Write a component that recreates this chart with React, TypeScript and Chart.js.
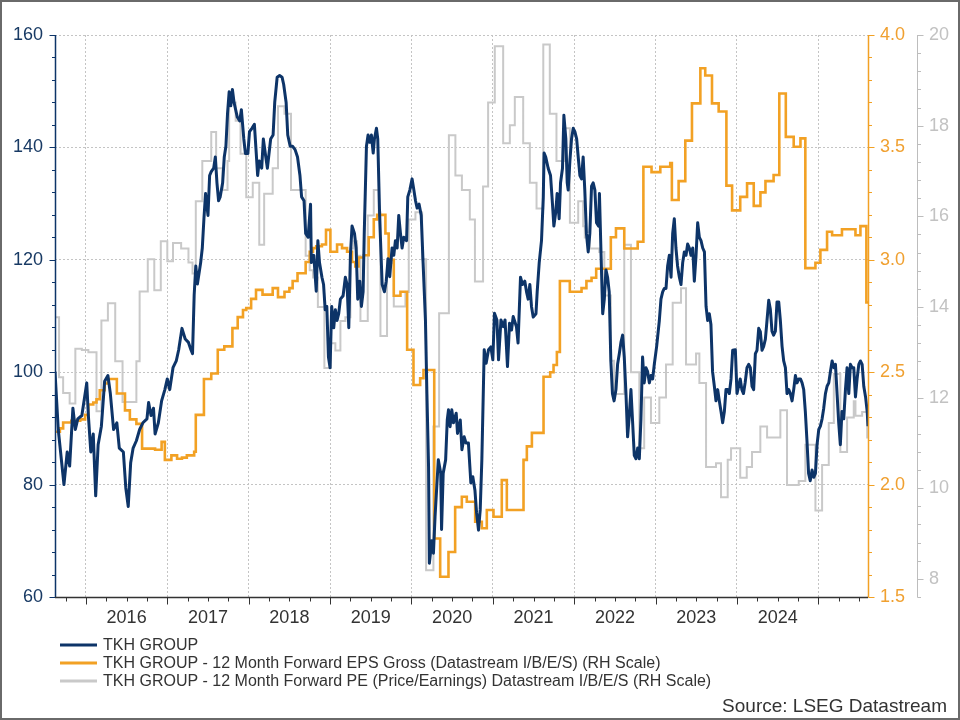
import React, { useEffect, useRef } from 'react';
import { Chart, registerables } from 'chart.js';

Chart.register(...registerables);

// ---------------- DATA ----------------
const yearLabels = ['2016', '2017', '2018', '2019', '2020', '2021', '2022', '2023', '2024'];
const seriesNames = [
  'TKH GROUP',
  'TKH GROUP - 12 Month Forward EPS Gross (Datastream I/B/E/S) (RH Scale)',
  'TKH GROUP - 12 Month Forward PE (Price/Earnings) Datastream I/B/E/S (RH Scale)',
];
const sourceText = 'Source: LSEG Datastream';

// TKH GROUP price (decimal-year dates, values)
const priceDates = [
  2015.62, 2015.66, 2015.73, 2015.77, 2015.80, 2015.84, 2015.87, 2015.90, 2015.95, 2016.01, 2016.03, 2016.06, 2016.09, 2016.12, 2016.15, 2016.19, 2016.23, 2016.27, 2016.30, 2016.34, 2016.38, 2016.41, 2016.46, 2016.49, 2016.52, 2016.55, 2016.58, 2016.62, 2016.66, 2016.70, 2016.75, 2016.77, 2016.80, 2016.83, 2016.85, 2016.89, 2016.93, 2016.97, 2017.00, 2017.03, 2017.07, 2017.11, 2017.14, 2017.18, 2017.22, 2017.26, 2017.29,
  2017.31, 2017.33, 2017.35, 2017.37, 2017.41, 2017.43, 2017.45, 2017.47, 2017.50, 2017.52, 2017.54, 2017.57, 2017.59, 2017.61, 2017.63, 2017.65, 2017.68, 2017.70, 2017.72, 2017.74, 2017.76, 2017.78, 2017.80, 2017.82, 2017.84, 2017.86, 2017.89, 2017.91, 2017.94, 2017.96, 2017.99, 2018.01, 2018.04, 2018.07, 2018.09, 2018.11, 2018.13, 2018.16, 2018.18, 2018.21, 2018.23, 2018.27, 2018.30, 2018.32, 2018.35, 2018.38, 2018.41, 2018.43, 2018.46, 2018.48, 2018.51, 2018.54, 2018.57, 2018.60, 2018.63, 2018.65, 2018.68, 2018.70, 2018.73, 2018.76, 2018.77, 2018.80, 2018.83, 2018.85, 2018.87, 2018.90, 2018.92, 2018.94, 2018.96,
  2018.98, 2019.00, 2019.02, 2019.045, 2019.065, 2019.086, 2019.106, 2019.127, 2019.16, 2019.188, 2019.209, 2019.23, 2019.25, 2019.27, 2019.30, 2019.32, 2019.34, 2019.365, 2019.385, 2019.406, 2019.42, 2019.447, 2019.467, 2019.488, 2019.508, 2019.53, 2019.545, 2019.57, 2019.586, 2019.61, 2019.64, 2019.668, 2019.69, 2019.713, 2019.733, 2019.762, 2019.783, 2019.803, 2019.824, 2019.844, 2019.865, 2019.885, 2019.906, 2019.94, 2019.955, 2019.98, 2020.008, 2020.03, 2020.05, 2020.07, 2020.094, 2020.12, 2020.143, 2020.172, 2020.19, 2020.21,
  2020.22, 2020.25, 2020.27, 2020.29, 2020.33, 2020.36, 2020.37, 2020.39, 2020.42, 2020.44, 2020.455, 2020.475, 2020.496, 2020.516, 2020.55, 2020.566, 2020.60, 2020.62, 2020.648, 2020.67, 2020.70, 2020.73, 2020.754, 2020.78, 2020.80, 2020.824, 2020.845, 2020.865, 2020.894, 2020.918, 2020.947, 2020.976, 2021.00, 2021.02, 2021.05, 2021.07, 2021.10, 2021.13, 2021.15, 2021.18, 2021.205, 2021.23, 2021.25, 2021.29, 2021.31,
  2021.34, 2021.365, 2021.393, 2021.414, 2021.434, 2021.455, 2021.475, 2021.496, 2021.53, 2021.545, 2021.57, 2021.598, 2021.62, 2021.63, 2021.65, 2021.68, 2021.709, 2021.733, 2021.75, 2021.774, 2021.79, 2021.815, 2021.832, 2021.856, 2021.873, 2021.897, 2021.914, 2021.926, 2021.947, 2021.967, 2021.988, 2022.008, 2022.03, 2022.049, 2022.07, 2022.09, 2022.11, 2022.13, 2022.15, 2022.172, 2022.192, 2022.213, 2022.233, 2022.254, 2022.274, 2022.30,
  2022.31, 2022.33, 2022.35, 2022.37, 2022.39, 2022.41, 2022.43, 2022.45, 2022.47, 2022.49, 2022.513, 2022.533, 2022.554, 2022.574, 2022.595, 2022.615, 2022.636, 2022.656, 2022.677, 2022.697, 2022.718, 2022.738, 2022.759, 2022.78, 2022.80, 2022.82, 2022.84, 2022.86, 2022.882, 2022.902, 2022.923, 2022.943, 2022.964, 2022.984, 2023.013, 2023.046, 2023.066, 2023.087, 2023.107, 2023.128, 2023.148, 2023.169, 2023.19, 2023.21, 2023.23, 2023.25, 2023.27, 2023.292, 2023.312, 2023.333, 2023.353, 2023.374, 2023.394, 2023.415, 2023.435, 2023.456, 2023.476, 2023.497, 2023.517, 2023.538, 2023.558, 2023.579, 2023.60, 2023.62, 2023.64, 2023.66, 2023.68, 2023.70, 2023.722, 2023.742, 2023.763, 2023.783, 2023.804, 2023.824, 2023.845, 2023.865, 2023.886, 2023.906, 2023.927, 2023.947, 2023.98,
  2024.00, 2024.02, 2024.04, 2024.06, 2024.08, 2024.10, 2024.123, 2024.144, 2024.164, 2024.185, 2024.205, 2024.226, 2024.246, 2024.267, 2024.287, 2024.308, 2024.328, 2024.349, 2024.369, 2024.39, 2024.41, 2024.43, 2024.45, 2024.472, 2024.492, 2024.513, 2024.533, 2024.554, 2024.574, 2024.595, 2024.615, 2024.636, 2024.656, 2024.677, 2024.697, 2024.718, 2024.738, 2024.759, 2024.78, 2024.80, 2024.82, 2024.84, 2024.86, 2024.88, 2024.90, 2024.923, 2024.943, 2024.964, 2024.984, 2025.005, 2025.025, 2025.046, 2025.066, 2025.087, 2025.107, 2025.128, 2025.148, 2025.169, 2025.19, 2025.21, 2025.23, 2025.25, 2025.27, 2025.29, 2025.312, 2025.333, 2025.353, 2025.374, 2025.394, 2025.415, 2025.435, 2025.456, 2025.476, 2025.497, 2025.517, 2025.538, 2025.558, 2025.58, 2025.60, 2025.61,
];
const priceValues = [
  100.1, 89.8, 80, 85.8, 83.3, 93.6, 89.8, 91.7, 92.3, 98.1, 92.3, 85.8, 89, 78, 87.1, 90.4, 98.4, 99.4, 96.2, 89.8, 91, 86.5, 85.8, 79.4, 76.1, 83.9, 86.5, 87.8, 89.8, 91, 91.7, 94.6, 92.3, 93.6, 89, 91, 94.9, 96.9, 98.8, 96.9, 100.8, 102, 104, 107.8, 105.9, 105.3, 104,
  103.3, 113.7, 118.9, 115.7, 119.5, 122.1, 127.3, 131.8, 127.9, 135, 135.7, 136.3, 138.3, 133.7, 130.5, 131.2, 133.7, 138.3, 140.2, 146, 149.9, 147.4, 150.3, 148, 146.7, 145.4, 144.7, 146.7, 141.5, 138.9, 138.9, 142.8, 143.4, 144.1, 139.6, 135, 137.6, 136.3, 141.5, 138.3, 136.3, 141.5, 142.2, 148, 152.5, 152.8, 152.5, 151.2, 148, 142.2, 140.2, 140.2, 139.6, 138.3, 135, 131.2, 130.5, 124.7, 124, 129.9, 119.5, 120.8, 114.4, 123.4, 119.5, 116.9, 115.6, 111.1, 111.7,
  102.7, 100.8, 111.7, 107.9, 111.1, 109.2, 110.4, 113, 113.6, 116.9, 115.6, 107.9, 120.8, 126, 124.7, 122.1, 113, 116.2, 111.7, 114.3, 124.7, 140.2, 142.2, 140.9, 142.2, 139, 141.5, 143.4, 141.5, 127.3, 115.6, 114.3, 116.2, 120.2, 117, 122.1, 120.8, 123.4, 122.1, 127.9, 124.7, 122.1, 124, 123.4, 131.2, 132.4, 134.4, 132.4, 130.5, 129.2, 129.9, 127.9, 119.5, 109.2, 96.2, 83.3,
  66, 70, 67.8, 74.3, 84.4, 82, 72, 82, 84.4, 91.5, 93.3, 90.3, 93.3, 91, 92.7, 89.1, 91.5, 86.2, 88.5, 87.4, 87.4, 80.3, 81.4, 79, 75, 71.9, 75.5, 84.4, 104, 101.6, 104, 104.5, 102.2, 110.5, 109.3, 102.2, 109.3, 108.1, 109.3, 101, 108.7, 107.5, 109.9, 108.1, 105.2,
  116.9, 115.6, 116.2, 114.3, 113, 115.6, 111.7, 109.8, 110.4, 114.3, 119.5, 123.4, 131.2, 139, 138.3, 136.3, 135, 129.9, 126, 128.6, 131.8, 127.3, 133.7, 136.3, 145.7, 141.5, 133.7, 132.4, 137.6, 141.5, 143.4, 142.8, 141.5, 138.3, 135, 134.4, 138.3, 132.4, 124.7, 121.4, 124.7, 133.1, 133.7, 132.4, 126.6, 126,
  131.8, 120.8, 110.4, 113, 118.2, 116.9, 114.3, 102, 96.2, 94.9, 96.9, 101.4, 103.3, 105.3, 106.6, 102.7, 96.2, 88.5, 92.3, 96.9, 91, 85.2, 84.6, 86.5, 84.6, 91.7, 102.7, 98.1, 100.8, 100.1, 98.1, 99.4, 98.8, 101.4, 104.6, 109.2, 113, 114.3, 114.9, 114.9, 118.9, 120.8, 116.9, 124.7, 127.3, 122.1, 118.9, 116.9, 115.6, 119.5, 121.4, 120.8, 122.8, 122.1, 120.8, 122.1, 116.2, 120.8, 126.6, 124, 123.4, 122.1, 121.4, 111.7, 109.2, 110.4, 108.5, 100.1, 97.5, 94.9, 96.9, 94.9, 93, 91, 93, 96.9, 96.9, 96.2, 98.8, 103.9, 104,
  96.2, 97.5, 98.8, 96.9, 96.2, 98.1, 100.8, 101.4, 100.8, 97.5, 96.9, 103.3, 103.9, 107.8, 107.2, 103.9, 104.6, 105.9, 109.2, 112.8, 111.2, 107.3, 106.6, 107.3, 112.5, 112.5, 109.2, 104.6, 102, 100.8, 96.2, 96.9, 96.2, 94.9, 96.9, 99.4, 98.1, 98.8, 98.8, 98.1, 96.9, 93, 87.8, 82, 80.7, 82.6, 81.3, 82, 87.1, 89.8, 90.4, 91.7, 93.6, 96.2, 97.5, 98.1, 100.1, 102, 100.8, 101.4, 96.2, 91, 87.1, 93, 91.7, 96.9, 100.8, 96.2, 101.4, 100.8, 100.8, 95.6, 98.8, 101.4, 102, 101.4, 97.5, 95.6, 93, 90.4,
];

// 12 Month Forward EPS (step series: date of change, new value)
const epsDates = [
  2015.62, 2015.68, 2015.72, 2015.82, 2015.93, 2015.99, 2016.03, 2016.09, 2016.13, 2016.17, 2016.23, 2016.27, 2016.38, 2016.48, 2016.54, 2016.62, 2016.69, 2016.85, 2016.93, 2016.97, 2017.05, 2017.12, 2017.18, 2017.24,
  2017.33, 2017.35, 2017.45, 2017.54, 2017.62, 2017.70, 2017.80, 2017.865, 2017.93, 2017.97, 2018.03, 2018.09, 2018.17, 2018.295, 2018.36, 2018.44, 2018.50, 2018.54, 2018.60, 2018.70, 2018.75, 2018.79, 2018.83, 2018.90, 2018.95,
  2019.004, 2019.086, 2019.147, 2019.209, 2019.27, 2019.31, 2019.35, 2019.414, 2019.475, 2019.537, 2019.578, 2019.68, 2019.72, 2019.783, 2019.865, 2019.947,
  2020.025, 2020.107, 2020.148, 2020.28, 2020.353, 2020.455, 2020.537, 2020.619, 2020.68, 2020.783, 2020.865, 2020.926, 2021.008, 2021.11, 2021.172, 2021.377, 2021.418, 2021.48, 2021.623, 2021.705, 2021.746, 2021.787, 2021.824, 2021.946, 2022.09, 2022.15, 2022.213, 2022.27,
  2022.45, 2022.513, 2022.615, 2022.78, 2022.85, 2022.95, 2023.058, 2023.18, 2023.20, 2023.283, 2023.365, 2023.447, 2023.55, 2023.61, 2023.693, 2023.775, 2023.87, 2023.94,
  2024.04, 2024.124, 2024.206, 2024.288, 2024.35, 2024.45, 2024.52, 2024.60, 2024.697, 2024.78, 2024.84, 2024.964, 2025.025, 2025.107, 2025.169, 2025.29, 2025.456, 2025.517, 2025.59, 2025.61,
];
const epsValues = [
  2.235, 2.25, 2.276, 2.284, 2.29, 2.31, 2.356, 2.365, 2.38, 2.42, 2.45, 2.47, 2.405, 2.33, 2.29, 2.27, 2.16, 2.155, 2.19, 2.11, 2.13, 2.115, 2.12, 2.13,
  2.146, 2.31, 2.47, 2.494, 2.6, 2.615, 2.696, 2.745, 2.777, 2.785, 2.826, 2.866, 2.845, 2.874, 2.834, 2.858, 2.874, 2.906, 2.94, 2.99, 3.036, 3.052, 3.06, 3.068, 3.133,
  3.036, 3.068, 3.052, 3.036, 2.99, 2.97, 3.01, 3.02, 3.1, 3.18, 3.2, 3.117, 3.0, 2.84, 2.858, 2.6,
  2.443, 2.473, 2.51, 1.76, 1.59, 1.70, 1.90, 1.946, 1.924, 1.835, 1.806, 1.887, 1.857, 2.02, 1.887, 2.11, 2.17, 2.23, 2.48, 2.50, 2.532, 2.59, 2.906, 2.858, 2.874, 2.906, 2.92, 2.96,
  3.1, 3.14, 3.05, 3.08, 3.414, 3.39, 3.414, 3.43, 3.266, 3.35, 3.53, 3.696, 3.852, 3.82, 3.696, 3.66, 3.33, 3.22,
  3.28, 3.34, 3.24, 3.30, 3.35, 3.377, 3.74, 3.547, 3.503, 3.54, 2.963, 2.987, 3.044, 3.125, 3.109, 3.136, 3.109, 3.15, 2.81, 2.81,
];

// 12 Month Forward PE (step series)
const peDates = [
  2015.62, 2015.67, 2015.72, 2015.80, 2015.87, 2015.95, 2016.03, 2016.13, 2016.19, 2016.27, 2016.36, 2016.45, 2016.62, 2016.66, 2016.76, 2016.84, 2016.92, 2017.00, 2017.07, 2017.17, 2017.26,
  2017.31, 2017.35, 2017.43, 2017.54, 2017.60, 2017.68, 2017.74, 2017.76, 2017.84, 2017.90, 2017.97, 2018.05, 2018.13, 2018.19, 2018.295, 2018.36, 2018.44, 2018.52, 2018.70, 2018.75, 2018.79, 2018.85, 2018.93,
  2019.01, 2019.065, 2019.127, 2019.188, 2019.25, 2019.29, 2019.332, 2019.373, 2019.463, 2019.537, 2019.598, 2019.619, 2019.70, 2019.762, 2019.783, 2019.926, 2019.967, 2020.049, 2020.131,
  2020.18, 2020.27, 2020.34, 2020.46, 2020.54, 2020.62, 2020.717, 2020.78, 2020.88, 2020.942, 2021.024, 2021.127, 2021.209, 2021.27, 2021.373, 2021.455, 2021.537, 2021.62, 2021.70, 2021.782, 2021.885, 2021.947, 2022.049, 2022.11, 2022.13, 2022.192,
  2022.308, 2022.37, 2022.45, 2022.49, 2022.615, 2022.697, 2022.80, 2022.86, 2022.943, 2023.046, 2023.128, 2023.21, 2023.312, 2023.374, 2023.497, 2023.538, 2023.62, 2023.742, 2023.804, 2023.886, 2023.927,
  2024.04, 2024.12, 2024.185, 2024.287, 2024.37, 2024.533, 2024.615, 2024.759, 2024.84, 2024.964, 2025.046, 2025.128, 2025.19, 2025.27, 2025.353, 2025.435, 2025.456, 2025.538, 2025.60, 2025.61,
];
const peValues = [
  13.77, 12.45, 12.1, 11.87, 13.08, 13.05, 13.0, 11.7, 13.7, 14.08, 12.8, 11.9, 12.8, 14.34, 15.05, 14.37, 15.45, 15.01, 15.41, 15.29, 14.98,
  14.74, 16.33, 17.22, 17.86, 17.06, 16.58, 17.22, 18.51, 18.11, 17.38, 16.42, 16.74, 15.37, 16.5, 17.06, 18.43, 18.26, 16.58, 15.13, 14.81, 14.65, 14.0, 12.65,
  13.2, 13.04, 13.69, 13.77, 15.29, 15.45, 15.13, 13.69, 16.02, 16.58, 16.09, 13.36, 15.05, 14.97, 14.01, 14.33, 15.93, 16.09, 15.05,
  8.19, 11.36, 13.86, 17.79, 16.9, 16.58, 15.93, 14.56, 16.66, 18.51, 19.75, 17.61, 18.01, 18.63, 17.61, 16.74, 16.17, 19.79, 18.26, 17.22, 17.94, 15.86, 16.33, 15.78, 15.53, 15.29,
  15.21, 14.25, 12.81, 12.08, 15.37, 12.56, 10.88, 12.0, 11.44, 12.0, 12.73, 14.09, 14.41, 12.73, 12.97, 12.32, 10.47, 10.55, 9.8, 10.63, 10.88,
  10.23, 10.47, 10.8, 11.36, 11.12, 11.72, 10.07, 10.16, 10.96, 9.51, 10.51, 11.44, 12.52, 10.8, 11.56, 11.92, 11.6, 11.68, 11.12, 11.12,
];

// axis ranges
const X_MIN = 2015.62;
const X_MAX = 2025.61;
const LEFT_MIN = 60, LEFT_MAX = 160;
const EPS_MIN = 1.5, EPS_MAX = 4.0;
const PE_MIN = 7.6, PE_MAX = 20;

// ---------------- STYLE ----------------
const FONT = "'Liberation Sans', Arial, Helvetica, sans-serif";
const NAVY = '#0d3468';
const ORANGE = '#f2a124';
const GREY = '#c9c9c9';
const GRID = '#c4c4c4';
const TEXT = '#333333';

const toXY = (d: number[], v: number[]) => d.map((x, i) => ({ x, y: v[i] }));
const near = (a: number, b: number) => Math.abs(a - b) < 1e-6;

function quarterTicks() {
  const out: { value: number }[] = [];
  for (let q = Math.ceil(X_MIN * 4); q <= Math.floor(X_MAX * 4); q++) out.push({ value: q / 4 });
  return out;
}

const decorPlugin = {
  id: 'decor',
  afterDraw(chart: any) {
    const { ctx, chartArea: ca, scales } = chart;
    const L = Math.round(ca.left) + 0.5;
    const R = Math.round(ca.right) + 0.5;
    const T = Math.round(ca.top);
    const B = Math.round(ca.bottom) + 0.5;
    const seg = (x1: number, y1: number, x2: number, y2: number) => {
      ctx.beginPath();
      ctx.moveTo(x1, y1);
      ctx.lineTo(x2, y2);
      ctx.stroke();
    };
    ctx.save();
    // left axis
    ctx.strokeStyle = NAVY;
    ctx.lineWidth = 1.5;
    seg(L, T, L, B);
    ctx.lineWidth = 1;
    for (let v = LEFT_MIN; v <= LEFT_MAX; v += 4) {
      const y = Math.round(scales.y.getPixelForValue(v)) + 0.5;
      seg(L - (v % 20 === 0 ? 6 : 3.5), y, L, y);
    }
    // orange axis
    ctx.strokeStyle = ORANGE;
    ctx.lineWidth = 1.5;
    seg(R, T, R, B);
    ctx.lineWidth = 1;
    for (let i = 15; i <= 40; i++) {
      const v = i / 10;
      const y = Math.round(scales.y1.getPixelForValue(v)) + 0.5;
      seg(R, y, R + (i % 5 === 0 ? 6 : 3.5), y);
    }
    // grey axis
    const G = Math.round(scales.y2.left) + 0.5;
    ctx.strokeStyle = '#bdbdbd';
    ctx.lineWidth = 1;
    seg(G, T, G, B);
    for (let i = 19; i <= 50; i++) {
      const v = (i * 4) / 10;
      const y = Math.round(scales.y2.getPixelForValue(v)) + 0.5;
      seg(G, y, G + (i % 5 === 0 ? 6 : 3.5), y);
    }
    // bottom axis
    ctx.strokeStyle = TEXT;
    ctx.lineWidth = 1.5;
    seg(ca.left, B, ca.right, B);
    ctx.lineWidth = 1;
    quarterTicks().forEach(({ value }) => {
      const x = Math.round(scales.x.getPixelForValue(value)) + 0.5;
      const major = near(value, Math.round(value));
      seg(x, B, x, B + (major ? 7 : 4));
    });
    // legend
    const colors = [NAVY, ORANGE, GREY];
    const rows = [645, 663, 681];
    ctx.font = `16px ${FONT}`;
    ctx.textBaseline = 'middle';
    ctx.textAlign = 'left';
    seriesNames.forEach((name, i) => {
      ctx.strokeStyle = colors[i];
      ctx.lineWidth = 3;
      seg(60, rows[i], 97, rows[i]);
      ctx.fillStyle = TEXT;
      ctx.fillText(name, 103, rows[i] + 1);
    });
    // source
    ctx.font = `19px ${FONT}`;
    ctx.textAlign = 'right';
    ctx.fillText(sourceText, 947, 707);
    // frame
    ctx.strokeStyle = '#6a6a6a';
    ctx.lineWidth = 2;
    ctx.strokeRect(1, 1, chart.width - 2, chart.height - 2);
    ctx.restore();
  },
};

export default function App() {
  const canvasRef = useRef<HTMLCanvasElement | null>(null);

  useEffect(() => {
    document.body.style.margin = '0';
    const canvas = canvasRef.current;
    if (!canvas) return;
    const chart = new Chart(canvas, {
      type: 'line',
      data: {
        datasets: [
          {
            label: seriesNames[0],
            data: toXY(priceDates, priceValues),
            borderColor: NAVY,
            borderWidth: 3,
            pointRadius: 0,
            tension: 0,
            yAxisID: 'y',
            borderJoinStyle: 'round',
          },
          {
            label: seriesNames[1],
            data: toXY(epsDates, epsValues),
            borderColor: ORANGE,
            borderWidth: 2.6,
            pointRadius: 0,
            stepped: true,
            yAxisID: 'y1',
          },
          {
            label: seriesNames[2],
            data: toXY(peDates, peValues),
            borderColor: GREY,
            borderWidth: 2,
            pointRadius: 0,
            stepped: true,
            yAxisID: 'y2',
          },
        ],
      },
      options: {
        animation: false,
        responsive: true,
        maintainAspectRatio: false,
        devicePixelRatio: 1,
        parsing: false as any,
        normalized: true,
        layout: { padding: { top: 35, left: 0, right: 0, bottom: 0 } },
        plugins: { legend: { display: false }, tooltip: { enabled: false } },
        events: [],
        scales: {
          x: {
            type: 'linear',
            min: X_MIN,
            max: X_MAX,
            afterBuildTicks: (s: any) => {
              s.ticks = quarterTicks();
            },
            afterFit: (s: any) => {
              s.height = 123;
            },
            grid: {
              drawTicks: false,
              color: (c: any) => (c.tick && near(c.tick.value, Math.round(c.tick.value)) ? GRID : 'rgba(0,0,0,0)'),
            },
            border: { display: false, dash: [2, 2] },
            ticks: {
              autoSkip: false,
              maxRotation: 0,
              minRotation: 0,
              padding: 10,
              color: TEXT,
              font: { size: 18, family: FONT },
              callback: (v: any) => {
                const n = Number(v);
                const y = Math.floor(n);
                return near(n - y, 0.5) && yearLabels.includes(String(y)) ? String(y) : '';
              },
            },
          },
          y: {
            position: 'left',
            min: LEFT_MIN,
            max: LEFT_MAX,
            afterBuildTicks: (s: any) => {
              const t: { value: number }[] = [];
              for (let v = LEFT_MIN; v <= LEFT_MAX; v += 4) t.push({ value: v });
              s.ticks = t;
            },
            afterFit: (s: any) => {
              s.width = 55;
            },
            grid: {
              drawTicks: false,
              color: (c: any) => (c.tick && c.tick.value % 20 === 0 && c.tick.value !== LEFT_MIN ? GRID : 'rgba(0,0,0,0)'),
            },
            border: { display: false, dash: [2, 2] },
            ticks: {
              autoSkip: false,
              padding: 12,
              color: '#183a64',
              font: { size: 18, family: FONT },
              callback: (v: any) => (Number(v) % 20 === 0 ? String(v) : ''),
            },
          },
          y1: {
            position: 'right',
            weight: 0,
            min: EPS_MIN,
            max: EPS_MAX,
            afterBuildTicks: (s: any) => {
              const t: { value: number }[] = [];
              for (let i = 15; i <= 40; i++) t.push({ value: i / 10 });
              s.ticks = t;
            },
            afterFit: (s: any) => {
              s.width = 49;
            },
            grid: { display: false, drawTicks: false },
            border: { display: false },
            ticks: {
              autoSkip: false,
              padding: 12,
              color: '#f0a030',
              font: { size: 18, family: FONT },
              callback: (v: any) => {
                const n = Number(v);
                return near(n * 2, Math.round(n * 2)) ? n.toFixed(1) : '';
              },
            },
          },
          y2: {
            position: 'right',
            weight: 1,
            min: PE_MIN,
            max: PE_MAX,
            afterBuildTicks: (s: any) => {
              const t: { value: number }[] = [];
              for (let i = 19; i <= 50; i++) t.push({ value: (i * 4) / 10 });
              s.ticks = t;
            },
            afterFit: (s: any) => {
              s.width = 43;
            },
            grid: { display: false, drawTicks: false },
            border: { display: false },
            ticks: {
              autoSkip: false,
              padding: 12,
              color: '#c2c2c2',
              font: { size: 18, family: FONT },
              callback: (v: any) => {
                const n = Number(v);
                const r = Math.round(n);
                return near(n, r) && r % 2 === 0 ? String(r) : '';
              },
            },
          },
        },
      } as any,
      plugins: [decorPlugin],
    });
    return () => chart.destroy();
  }, []);

  return (
    <div style={{ position: 'relative', width: 960, height: 720, background: '#ffffff' }}>
      <canvas ref={canvasRef} />
    </div>
  );
}
